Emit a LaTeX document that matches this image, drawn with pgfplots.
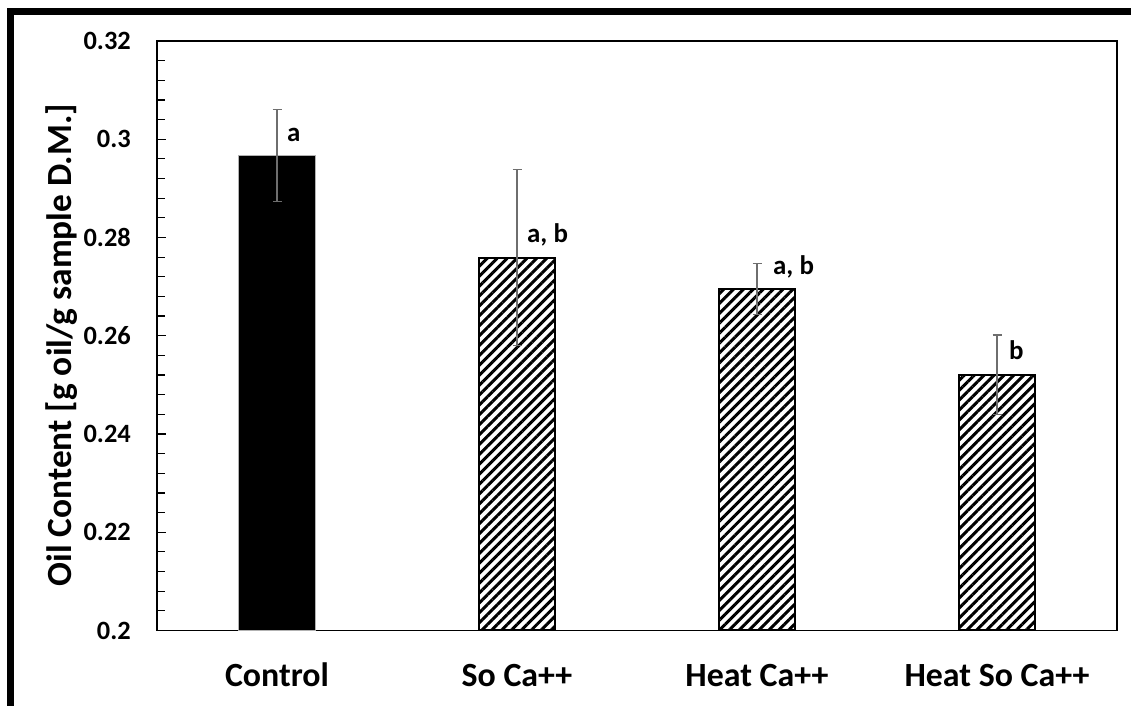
\documentclass[border=0pt]{standalone}
\usepackage{fontspec}
\setmainfont{Carlito}
\usepackage{pgfplots}
\pgfplotsset{compat=1.18}
\usetikzlibrary{patterns.meta}

\definecolor{errgray}{HTML}{6E6E6E}

% mean oil content and standard deviation per treatment
\pgfplotstableread{
x  y       e
0  0.2967  0.0094
}\controldata
\pgfplotstableread{
x  y       e
1  0.2759  0.0179
2  0.2695  0.0052
3  0.2521  0.0081
}\treatdata

\begin{document}
\begin{tikzpicture}
\useasboundingbox (0bp,0bp) rectangle (1131bp,706bp);
% chart frame (top and left edges)
\draw[line width=7.5bp] (10.5bp,0bp) -- (10.5bp,694.5bp) -- (1131bp,694.5bp);
\begin{axis}[
  at={(157bp,75.5bp)}, anchor=south west,
  width=960bp, height=589.5bp, scale only axis,
  ybar, bar width=0.32, bar shift=0pt,
  xmin=-0.5, xmax=3.5, ymin=0.2, ymax=0.32,
  ytick={0.2,0.22,0.24,0.26,0.28,0.3,0.32},
  minor y tick num=4,
  ytick pos=left,
  tick align=inside,
  major tick length=9bp, minor tick length=8bp,
  xtick={0,1,2,3},
  xticklabels={Control, So Ca++, Heat Ca++, Heat So Ca++},
  x tick style={draw=none},
  y tick style={black, line width=1.2bp},
  axis line style={line width=1.5bp},
  /pgf/number format/assume math mode=true,
  yticklabel style={font=\fontsize{26.5}{30}\selectfont\bfseries, anchor=east, inner sep=0pt, xshift=-26bp},
  xticklabel style={font=\fontsize{34}{40}\selectfont\bfseries, anchor=base, inner sep=0pt, yshift=-56bp},
  ylabel={Oil Content [g oil/g sample D.M.]},
  ylabel style={font=\fontsize{35.5}{40}\selectfont\bfseries, at={(axis description cs:-0.099,0.484)}, anchor=center},
  error bars/y dir=both, error bars/y explicit,
  error bars/error bar style={errgray, line width=1.5bp},
  error bars/error mark options={errgray, line width=1.5bp, mark size=4.5bp, rotate=90},
]
\addplot[fill=black, draw=gray!60, line width=1bp]
  table[x=x, y=y, y error=e] {\controldata};
\addplot[draw=black, line width=2bp, pattern={Lines[angle=45,distance=7bp,line width=3bp]}, pattern color=black]
  table[x=x, y=y, y error=e] {\treatdata};

% significance letters
\begin{scope}[every node/.style={font=\fontsize{27}{30}\selectfont\bfseries, anchor=base west, inner sep=0pt}]
\node[xshift=10bp, yshift=14bp] at (axis cs:0,0.2967) {a};
\node[xshift=10bp, yshift=15bp] at (axis cs:1,0.2759) {a, b};
\node[xshift=16bp, yshift=15bp] at (axis cs:2,0.2695) {a, b};
\node[xshift=12bp, yshift=15bp] at (axis cs:3,0.2521) {b};
\end{scope}
\end{axis}
\end{tikzpicture}
\end{document}
